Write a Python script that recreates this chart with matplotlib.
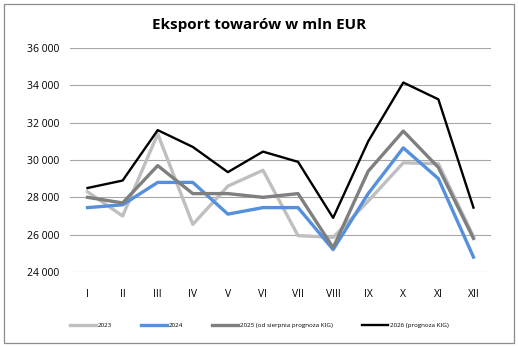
import numpy as np
import matplotlib.pyplot as plt
from matplotlib.patches import Rectangle

months = ['I', 'II', 'III', 'IV', 'V', 'VI', 'VII', 'VIII', 'IX', 'X', 'XI', 'XII']
y2023 = [28300, 27000, 31400, 26550, 28600, 29450, 25950, 25850, 27800, 29850, 29800, 25900]
y2024 = [27450, 27600, 28800, 28800, 27100, 27450, 27450, 25200, 28200, 30650, 29000, 24800]
y2025 = [28000, 27700, 29700, 28200, 28200, 28000, 28200, 25300, 29400, 31550, 29600, 25800]
y2026 = [28500, 28900, 31600, 30700, 29350, 30450, 29900, 26900, 31000, 34150, 33250, 27450]
labels = ['2023', '2024', '2025 (od sierpnia prognoza KIG)', '2026 (prognoza KIG)']
yticks = [24000, 26000, 28000, 30000, 32000, 34000, 36000]

plt.rcParams['font.family'] = ['Open Sans', 'DejaVu Sans']

fig = plt.figure(figsize=(5.18, 3.47), dpi=100)
ax = fig.add_axes([70/518, 1-272/347, 421/518, 224/347])
fig.patches.append(Rectangle((4/518, 4/347), 510/518, 339/347, transform=fig.transFigure,
                             fill=False, edgecolor='#8c8c8c', linewidth=0.9))

x = np.arange(len(months))
ax.plot(x, y2023, color='#bfbfbf', linewidth=2.4, label=labels[0])
ax.plot(x, y2024, color='#5590dd', linewidth=2.4, label=labels[1])
ax.plot(x, y2025, color='#7f7f7f', linewidth=2.4, label=labels[2])
ax.plot(x, y2026, color='black', linewidth=1.7, label=labels[3])

ax.set_xlim(-0.5, 11.5)
ax.set_ylim(24000, 36000)
ax.set_yticks(yticks)
ax.set_yticklabels([f'{v:,}'.replace(',', ' ') for v in yticks], fontsize=7.5)
ax.set_xticks(x)
ax.set_xticklabels(months, fontsize=7.5)
ax.tick_params(length=0)
ax.tick_params(axis='x', pad=12)
ax.tick_params(axis='y', pad=8)
ax.grid(axis='y', color='#a6a6a6', linewidth=0.8)
ax.set_axisbelow(True)
for s in ax.spines.values():
    s.set_visible(False)

fig.text(0.5, 0.915, 'Eksport towarów w mln EUR', ha='center', fontsize=11, fontweight='bold')
fig.legend(loc='center', bbox_to_anchor=(0.5, 1-325/347), ncol=4, frameon=False,
           fontsize=4.5, handlelength=4.2, columnspacing=4.6, handletextpad=0.3)

fig.savefig('out.png', dpi=100)
